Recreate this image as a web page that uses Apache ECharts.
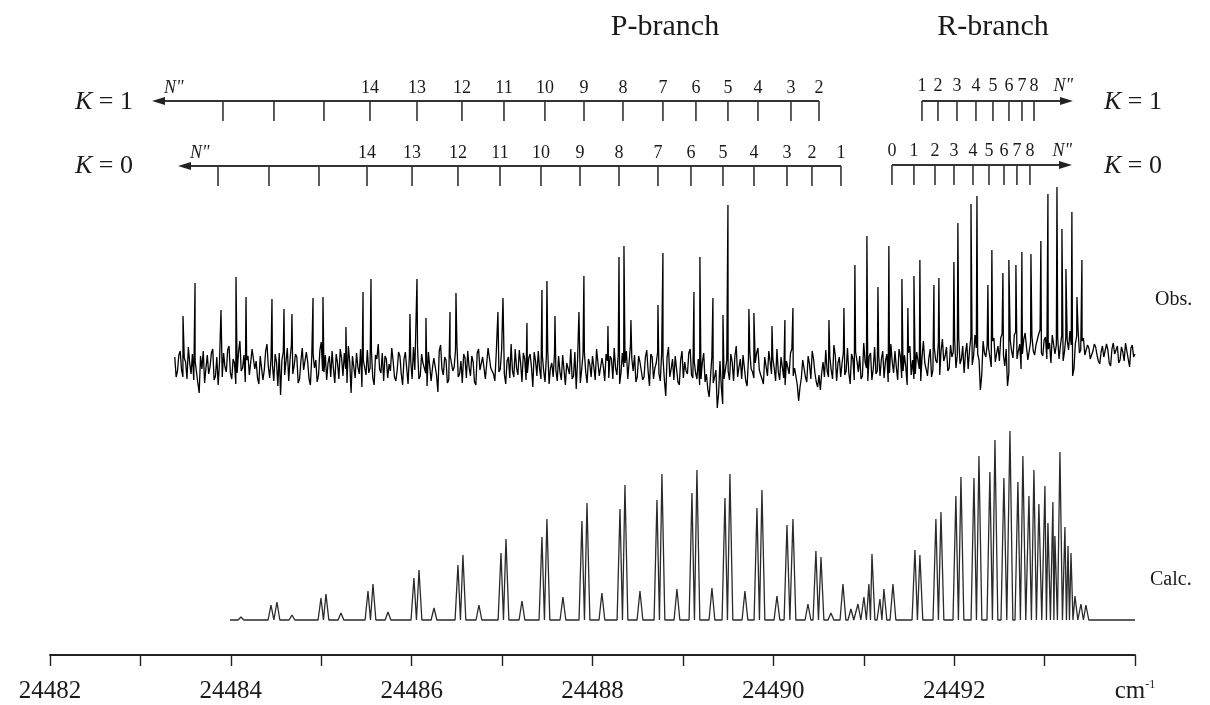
<!DOCTYPE html>
<html><head><meta charset="utf-8">
<script src="https://cdn.jsdelivr.net/npm/echarts@6/dist/echarts.min.js"></script>
<style>html,body{margin:0;padding:0;background:#fff}#c{width:1210px;height:705px}</style>
</head><body><div id="c"></div>
<script>
// ---------------- data ----------------
const xMin = 24482, xMax = 24494;
const xLabelValues = [24482, 24484, 24486, 24488, 24490, 24492];
const xUnitLabel = ['cm', '-1'];

// Assignment combs (wavenumber of each N" line, label)
const combPK1Pos = [24483.913, 24484.477, 24485.030, 24485.539, 24486.059, 24486.556, 24487.021, 24487.474, 24487.906, 24488.337, 24488.779, 24489.144, 24489.498, 24489.830, 24490.195, 24490.505];
const combPK1Lab = ['', '', '', '14', '13', '12', '11', '10', '9', '8', '7', '6', '5', '4', '3', '2'];
const combPK0Pos = [24483.858, 24484.422, 24484.975, 24485.506, 24486.004, 24486.512, 24486.977, 24487.430, 24487.862, 24488.293, 24488.724, 24489.089, 24489.443, 24489.786, 24490.151, 24490.427, 24490.748];
const combPK0Lab = ['', '', '', '14', '13', '12', '11', '10', '9', '8', '7', '6', '5', '4', '3', '2', '1'];
const combRK1Pos = [24491.644, 24491.821, 24492.031, 24492.241, 24492.429, 24492.606, 24492.750, 24492.883];
const combRK1Lab = ['1', '2', '3', '4', '5', '6', '7', '8'];
const combRK0Pos = [24491.312, 24491.555, 24491.788, 24491.998, 24492.208, 24492.385, 24492.551, 24492.694, 24492.838];
const combRK0Lab = ['0', '1', '2', '3', '4', '5', '6', '7', '8'];
// arrow spans [start, arrow tip]
const combPK1Span = [24490.505, 24483.128];
const combPK0Span = [24490.748, 24483.416];
const combRK1Span = [24491.644, 24493.314];
const combRK0Span = [24491.312, 24493.303];

// Observed spectrum: baseline noise samples (two interleaved sample sets) + resolved line peaks
const obsStart = 24483.38, obsStep = 0.03;
const obsNoise = [
 8,-6,14,-12,3,18,-9,-15,6,-28,-4,-18,10,-2,16,-11,-20,5,12,-7,
 19,-14,2,-8,24,-3,-17,9,-12,15,4,-19,7,-5,21,-13,0,11,-21,-30,
 13,-9,-16,20,-1,8,-14,17,-6,3,-20,11,5,-10,23,-7,-15,9,14,-18,
 2,16,-11,-4,19,-28,7,12,-9,-22,4,15,-3,-13,10,21,-8,-16,6,1,
 17,-12,-5,9,-20,13,-19,4,18,-7,-14,11,2,-21,15,-3,8,-27,20,-10,
 5,-15,12,-2,22,-9,-18,7,14,-11,3,-20,16,-6,9,-13,19,-1,-16,10,
 -4,13,-19,8,21,-12,-3,15,-17,6,-8,11,-22,4,14,-14,-6,9,-19,2,
 12,-16,-7,10,-20,3,16,-11,-24,7,-5,13,-18,1,9,-15,18,-9,-2,11,
 -13,6,17,-10,-19,12,2,-14,20,-6,-17,9,4,-12,15,-21,8,-3,13,-16,
 7,-31,18,-4,-15,10,-20,14,3,-9,16,-13,-8,6,-14,12,-9,-32,8,-12,
 -43,4,-39,-12,-6,11,-16,19,-2,-14,8,-21,13,-7,2,17,-10,-19,6,14,
 -9,-3,16,-15,10,-20,5,12,-11,-4,-36,-13,7,-17,1,14,-8,-22,-25,3,
 15,-12,-5,20,-16,8,2,-10,17,-19,6,13,-7,-14,22,-3,9,-15,18,-6,
 -11,14,4,-17,21,-8,-2,16,-13,10,-20,19,5,-9,12,-16,24,-4,7,-12,
 18,2,-10,26,9,-6,20,13,-3,28,6,-8,22,15,0,30,11,-25,24,8,
 17,-2,27,12,4,31,-1,-21,25,7,33,14,-4,26,18,3,29,10,22,35,
 9,28,16,2,32,20,6,30,13,25,34,-11,21,36,15,27,12,17,5,21,
 10,1,19,6,15,-1,22,9,2,18,4,14,-2,20,11
];
const obsStart2 = 24483.395;
const obsNoise2 = [
 -12,10,-5,7,-14,2,11,4,-18,9,14,-3,-9,12,-15,8,3,-12,-2,15,
 -8,6,-19,13,-6,10,5,-10,16,-4,-13,9,-15,14,-2,8,-16,3,12,5,
 -10,17,6,-9,11,-18,4,-5,13,-14,8,-3,-17,15,-6,10,2,-12,-4,11,
 -14,7,12,-18,3,9,-13,-2,16,5,-10,-8,14,-20,6,-4,12,9,-13,-6,
 4,-16,13,-9,6,-3,10,-14,-5,17,-11,2,-8,13,-16,7,-10,14,-4,8,
 -18,10,-6,15,-12,4,11,-13,-2,9,-17,12,-5,8,-14,17,-3,-9,11,-7,
 15,-9,4,-13,-6,16,-10,2,12,-15,7,-2,13,-11,-4,10,-17,14,-3,-12,
 -5,9,-15,12,2,-9,-14,13,5,-18,11,-7,6,-12,-2,16,-11,7,-16,4,
 9,-14,-3,11,-8,-2,14,-16,6,10,-12,3,-15,8,-6,11,-14,2,-9,12,
 -15,8,-12,6,9,-17,5,-13,-6,12,-10,4,-14,-20,3,-17,-24,-12,-18,-5,
 -28,-22,-14,5,-15,3,9,-12,6,10,-16,7,-4,-13,12,-5,-14,8,-11,3,
 6,-16,-7,8,-13,4,-9,16,-3,-20,-22,5,-12,9,-14,6,-17,-10,-8,-12,
 -6,8,-14,10,2,-12,13,-6,-8,11,-15,4,9,-11,3,-16,12,-4,-9,10,
 6,-13,11,-8,3,14,-15,9,-6,-2,12,-10,-14,13,-4,8,2,-11,16,-5,
 5,22,14,4,18,-3,8,26,10,1,19,12,-4,28,9,17,5,-10,12,20,
 8,24,3,19,27,10,16,-8,14,30,6,21,11,32,5,23,14,20,31,12,
 25,6,22,30,11,27,19,4,28,15,20,-4,29,12,24,10,20,6,14,18,
 4,13,8,21,2,16,11,19,5,13,22,6,17,8
];
const obsPeakPos = [24483.471, 24483.604, 24483.891, 24484.057, 24484.168, 24484.455, 24484.588, 24484.676, 24484.909, 24485.019,
 24485.273, 24485.462, 24485.550, 24485.981, 24486.059, 24486.158, 24486.424, 24486.490, 24486.954, 24487.010,
 24487.275, 24487.441, 24487.496, 24487.585, 24487.850, 24487.905, 24488.171, 24488.293, 24488.348, 24488.425,
 24488.724, 24488.779, 24489.122, 24489.188, 24489.332, 24489.443, 24489.498, 24489.730, 24489.785, 24489.985,
 24490.128, 24490.217, 24490.615, 24490.781, 24490.902, 24491.035, 24491.157, 24491.278, 24491.422, 24491.488,
 24491.555, 24491.621, 24491.776, 24491.831, 24491.997, 24492.041, 24492.186, 24492.252, 24492.373, 24492.417,
 24492.539, 24492.605, 24492.683, 24492.749, 24492.849, 24492.959, 24493.037, 24493.137, 24493.192, 24493.236,
 24493.302, 24493.358, 24493.413];
const obsPeakH = [49, 82, 55, 88, 68, 66, 56, 51, 67, 68,
 38, 73, 86, 51, 86, 47, 53, 72, 53, 67,
 42, 75, 84, 49, 53, 89, 39, 108, 119, 45,
 60, 112, 73, 108, 67, 50, 160, 56, 52, 39,
 45, 57, 45, 57, 100, 129, 78, 119, 86, 57,
 89, 105, 80, 87, 103, 142, 161, 169, 80, 115,
 92, 105, 100, 113, 111, 124, 171, 178, 136, 96,
 153, 68, 105];

// Calculated spectrum: line positions and peak heights
const calcStart = 24483.99, calcEnd = 24494.0;
const calcPeakPos = [24484.112, 24484.444, 24484.510, 24484.676, 24484.997, 24485.052, 24485.218, 24485.517, 24485.572, 24485.738,
 24486.025, 24486.081, 24486.247, 24486.512, 24486.567, 24486.744, 24486.988, 24487.043, 24487.220, 24487.441,
 24487.496, 24487.673, 24487.883, 24487.939, 24488.104, 24488.304, 24488.359, 24488.525, 24488.713, 24488.768,
 24488.934, 24489.100, 24489.155, 24489.321, 24489.465, 24489.520, 24489.686, 24489.819, 24489.874, 24490.040,
 24490.151, 24490.217, 24490.383, 24490.471, 24490.527, 24490.637, 24490.770, 24490.858, 24490.936, 24491.002,
 24491.057, 24491.091, 24491.179, 24491.223, 24491.323, 24491.566, 24491.621, 24491.798, 24491.854, 24492.019,
 24492.075, 24492.219, 24492.274, 24492.395, 24492.451, 24492.550, 24492.617, 24492.705, 24492.760, 24492.827,
 24492.882, 24492.937, 24493.004, 24493.037, 24493.092, 24493.114, 24493.170, 24493.225, 24493.259, 24493.292,
 24493.336, 24493.402, 24493.457];
const calcPeakH = [3, 15, 18, 5, 22, 26, 7, 29, 36, 8,
 42, 50, 12, 55, 65, 15, 67, 81, 19, 83,
 101, 23, 99, 117, 27, 111, 135, 29, 120, 146,
 31, 127, 150, 32, 122, 146, 29, 112, 130, 24,
 95, 101, 16, 69, 63, 7, 36, 11, 16, 23,
 36, 66, 21, 31, 36, 70, 65, 101, 108, 124,
 143, 142, 164, 148, 180, 142, 189, 138, 164, 124,
 150, 116, 134, 97, 118, 84, 168, 93, 74, 67,
 24, 16, 15];

// ---------------- build ----------------
const obsPts = obsNoise.map((v, i) => [+(obsStart + i * obsStep).toFixed(3), v])
  .concat(obsNoise2.map((v, i) => [+(obsStart2 + i * obsStep).toFixed(3), v]))
  .concat(obsPeakPos.map((p, i) => [p, obsPeakH[i]]))
  .sort((a, b) => a[0] - b[0]);

const HW = 0.032;
const calcPts = [[calcStart, 0]];
calcPeakPos.forEach((p, i) => {
  const l = i > 0 ? Math.min(HW, (p - calcPeakPos[i - 1]) / 2) : HW;
  const r = i < calcPeakPos.length - 1 ? Math.min(HW, (calcPeakPos[i + 1] - p) / 2) : HW;
  calcPts.push([p - l, 0], [p, calcPeakH[i]], [p + r, 0]);
});
calcPts.push([calcEnd, 0]);

const SERIF = '"Liberation Serif", "DejaVu Serif", serif';
const INK = '#1a1a1a';

function combTicks(pos, labels, lineY, labelY) {
  return {
    type: 'custom', coordinateSystem: 'cartesian2d', xAxisIndex: 1, yAxisIndex: 1,
    data: pos.map(p => [p, 0]), silent: true, animation: false,
    renderItem(params, api) {
      const x = api.coord([api.value(0), 0])[0];
      return { type: 'group', children: [
        { type: 'line', shape: { x1: x, y1: lineY, x2: x, y2: lineY + 20 }, style: { stroke: '#333', lineWidth: 1.6 } },
        { type: 'text', style: { text: labels[params.dataIndex], x: x, y: labelY, align: 'center', verticalAlign: 'middle',
          fontFamily: SERIF, fontSize: 18, fill: INK } }
      ]};
    }
  };
}
function combArrow(span, lineY, nLabelDx, nLabelY) {
  return {
    type: 'custom', coordinateSystem: 'cartesian2d', xAxisIndex: 1, yAxisIndex: 1,
    data: [[span[0], span[1]]], silent: true, animation: false,
    renderItem(params, api) {
      const x1 = api.coord([api.value(0), 0])[0];
      const x2 = api.coord([api.value(1), 0])[0];
      const d = x2 > x1 ? 1 : -1;
      return { type: 'group', children: [
        { type: 'line', shape: { x1: x1, y1: lineY, x2: x2 - d * 8, y2: lineY }, style: { stroke: '#333', lineWidth: 1.8 } },
        { type: 'polygon', shape: { points: [[x2, lineY], [x2 - d * 13, lineY - 4], [x2 - d * 13, lineY + 4]] }, style: { fill: '#222' } },
        { type: 'text', style: { text: 'N"', x: x2 + nLabelDx, y: nLabelY, align: d < 0 ? 'left' : 'right', verticalAlign: 'middle',
          fontFamily: SERIF, fontStyle: 'italic', fontSize: 18, fill: INK } }
      ]};
    }
  };
}

const chart = echarts.init(document.getElementById('c'), null, { renderer: 'canvas' });
const kText = (t) => ({ text: '{i|K} = ' + t, fontFamily: SERIF, fontSize: 26, fill: INK,
  rich: { i: { fontStyle: 'italic', fontFamily: SERIF, fontSize: 26 } } });

chart.setOption({
  animation: false,
  backgroundColor: '#fff',
  grid: [
    { left: 50, right: 75, top: 150, height: 280 },
    { left: 50, right: 75, top: 420, height: 235 }
  ],
  xAxis: [
    { type: 'value', gridIndex: 0, min: xMin, max: xMax, show: false },
    { type: 'value', gridIndex: 1, min: xMin, max: xMax, interval: 1,
      axisLine: { show: true, onZero: false, lineStyle: { color: '#222', width: 1.8 } },
      axisTick: { show: true, length: 11, lineStyle: { color: '#222', width: 1.4 } },
      splitLine: { show: false },
      axisLabel: { show: true, margin: 24, color: INK, fontFamily: SERIF, fontSize: 25, showMinLabel: true, showMaxLabel: true,
        formatter: v => v === xMax ? '{u|' + xUnitLabel[0] + '}{s|' + xUnitLabel[1] + '}' : (xLabelValues.indexOf(v) >= 0 ? String(v) : ''),
        rich: { u: { fontFamily: SERIF, fontSize: 25, color: INK }, s: { fontFamily: SERIF, fontSize: 12, color: INK, verticalAlign: 'top' } } } }
  ],
  yAxis: [
    { type: 'value', gridIndex: 0, min: -65, max: 215, show: false },
    { type: 'value', gridIndex: 1, min: -35, max: 200, show: false }
  ],
  graphic: [
    { type: 'text', x: 665, y: 27, style: { text: 'P-branch', fontFamily: SERIF, fontSize: 30, fill: INK, align: 'center', verticalAlign: 'middle' } },
    { type: 'text', x: 993, y: 27, style: { text: 'R-branch', fontFamily: SERIF, fontSize: 30, fill: INK, align: 'center', verticalAlign: 'middle' } },
    { type: 'text', x: 75, y: 102, style: Object.assign(kText('1'), { verticalAlign: 'middle' }) },
    { type: 'text', x: 75, y: 166, style: Object.assign(kText('0'), { verticalAlign: 'middle' }) },
    { type: 'text', x: 1104, y: 102, style: Object.assign(kText('1'), { verticalAlign: 'middle' }) },
    { type: 'text', x: 1104, y: 166, style: Object.assign(kText('0'), { verticalAlign: 'middle' }) },
    { type: 'text', x: 1155, y: 300, style: { text: 'Obs.', fontFamily: SERIF, fontSize: 20, fill: INK, verticalAlign: 'middle' } },
    { type: 'text', x: 1150, y: 580, style: { text: 'Calc.', fontFamily: SERIF, fontSize: 20, fill: INK, verticalAlign: 'middle' } }
  ],
  series: [
    { type: 'line', xAxisIndex: 0, yAxisIndex: 0, data: obsPts, symbol: 'none', showSymbol: false,
      lineStyle: { color: '#000', width: 1.3 }, silent: true },
    { type: 'line', xAxisIndex: 1, yAxisIndex: 1, data: calcPts, symbol: 'none', showSymbol: false,
      lineStyle: { color: '#2a2a2a', width: 1.3 }, silent: true },
    combArrow(combPK1Span, 101, 12, 88),
    combTicks(combPK1Pos, combPK1Lab, 101, 88),
    combArrow(combPK0Span, 166, 12, 153),
    combTicks(combPK0Pos, combPK0Lab, 166, 153),
    combArrow(combRK1Span, 101, 0, 86),
    combTicks(combRK1Pos, combRK1Lab, 101, 86),
    combArrow(combRK0Span, 165, 0, 151),
    combTicks(combRK0Pos, combRK0Lab, 165, 151)
  ]
});
</script></body></html>
